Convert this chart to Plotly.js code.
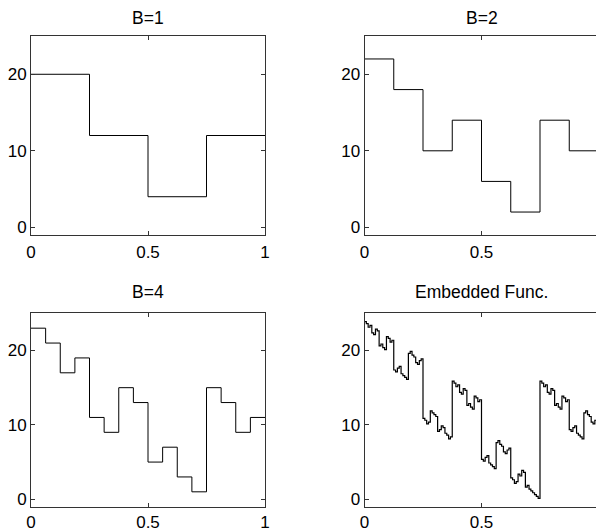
<!DOCTYPE html>
<html>
<head>
<meta charset="utf-8">
<script src="https://cdn.plot.ly/plotly-3.0.1.min.js"></script>
<style>html,body{margin:0;padding:0;background:#fff;}#chart{width:596px;height:531px;}</style>
</head>
<body>
<div id="chart"></div>
<script>
// Step-function values (one value per equal-width interval on [0,1])
const titles = ["B=1", "B=2", "B=4", "Embedded Func."];
const b1 = [20, 12, 4, 12];
const b2 = [22, 18, 10, 14, 6, 2, 14, 10];
const b4 = [23, 21, 17, 19, 11, 9, 15, 13, 5, 7, 3, 1, 15, 13, 9, 11];
const embedded = [
  23.875, 23.625, 23.125, 23.375, 22.375, 22.125, 22.875, 22.625,
  20.625, 20.875, 20.375, 20.125, 21.875, 21.625, 21.125, 21.375,
  17.375, 17.125, 17.625, 17.875, 16.875, 16.625, 16.375, 16.125,
  19.625, 19.875, 19.375, 19.125, 18.375, 18.125, 18.625, 18.875,
  10.875, 10.625, 10.125, 10.375, 11.875, 11.625, 11.375, 11.125,
  9.125, 9.375, 9.875, 9.625, 8.875, 8.625, 8.125, 8.375,
  15.875, 15.625, 15.125, 15.375, 14.375, 14.125, 14.875, 14.625,
  12.625, 12.875, 12.375, 12.125, 13.875, 13.625, 13.125, 13.375,
  5.375, 5.125, 5.625, 5.875, 4.875, 4.625, 4.375, 4.125,
  7.625, 7.875, 7.375, 7.125, 6.375, 6.125, 6.625, 6.875,
  2.875, 2.625, 2.125, 2.375, 3.375, 3.125, 3.875, 3.625,
  1.625, 1.875, 1.375, 1.125, 0.875, 0.625, 0.375, 0.125,
  15.875, 15.625, 15.125, 15.375, 14.375, 14.125, 14.875, 14.625,
  12.625, 12.875, 12.375, 12.125, 13.875, 13.625, 13.125, 13.375,
  9.375, 9.125, 9.625, 9.875, 8.875, 8.625, 8.375, 8.125,
  11.625, 11.875, 11.375, 11.125, 10.375, 10.125, 10.625, 10.875
];
const xTicks = [0, 0.5, 1];
const yTicks = [0, 10, 20];

function stepTrace(vals, xa, ya, w) {
  const n = vals.length;
  const x = vals.map((_, i) => i / n).concat([1]);
  const y = vals.concat([vals[n - 1]]);
  return {x: x, y: y, xaxis: xa, yaxis: ya, type: 'scatter', mode: 'lines',
          line: {shape: 'hv', color: '#000', width: w}, hoverinfo: 'skip'};
}

const data = [
  stepTrace(b1, 'x', 'y', 1),
  stepTrace(b2, 'x2', 'y2', 1),
  stepTrace(b4, 'x3', 'y3', 1),
  stepTrace(embedded, 'x4', 'y4', 1.2)
];

const W = 596, H = 531;
const font = {family: 'Liberation Sans, Arial, Helvetica, sans-serif', size: 17, color: '#000'};
function ax(extra) {
  return Object.assign({
    showline: true, linecolor: '#333', linewidth: 1,
    ticks: 'inside', ticklen: 4, tickcolor: '#333', tickwidth: 1,
    showgrid: false, zeroline: false, tickfont: font, fixedrange: true
  }, extra);
}
const leftX = [31 / W, 265 / W];
const rightX = [364.5 / W, 1];
const topY = [(H - 235) / H, (H - 36) / H];
const botY = [(H - 506.7) / H, (H - 313.3) / H];
const rightMax = (W - 364.5) / 234;

const layout = {
  width: W, height: H,
  margin: {l: 0, r: 0, t: 0, b: 0},
  paper_bgcolor: '#fff', plot_bgcolor: '#fff',
  showlegend: false,
  xaxis:  ax({domain: leftX,  anchor: 'y',  range: [0, 1], tickvals: xTicks, mirror: 'ticks', ticklabelstandoff: 2}),
  yaxis:  ax({domain: topY,   anchor: 'x',  range: [-1, 25], tickvals: yTicks, mirror: 'ticks'}),
  xaxis2: ax({domain: rightX, anchor: 'y2', range: [0, rightMax], tickvals: xTicks, mirror: 'ticks', ticklabelstandoff: 2}),
  yaxis2: ax({domain: topY,   anchor: 'x2', range: [-1, 25], tickvals: yTicks, mirror: false}),
  xaxis3: ax({domain: leftX,  anchor: 'y3', range: [0, 1], tickvals: xTicks, mirror: 'ticks'}),
  yaxis3: ax({domain: botY,   anchor: 'x3', range: [-1, 25], tickvals: yTicks, mirror: 'ticks'}),
  xaxis4: ax({domain: rightX, anchor: 'y4', range: [0, rightMax], tickvals: xTicks, mirror: 'ticks'}),
  yaxis4: ax({domain: botY,   anchor: 'x4', range: [-1, 25], tickvals: yTicks, mirror: false}),
  annotations: [
    {text: titles[0], xref: 'x',  x: 0.5, yref: 'paper', y: (H - 18) / H},
    {text: titles[1], xref: 'x2', x: 0.5, yref: 'paper', y: (H - 18) / H},
    {text: titles[2], xref: 'x3', x: 0.5, yref: 'paper', y: (H - 291.5) / H},
    {text: titles[3], xref: 'x4', x: 0.5, yref: 'paper', y: (H - 291.5) / H}
  ].map(a => Object.assign(a, {showarrow: false, xanchor: 'center', yanchor: 'middle',
                                font: {family: font.family, size: 17.5, color: '#000'}}))
};

Plotly.newPlot('chart', data, layout, {displayModeBar: false, staticPlot: true});
</script>
</body>
</html>
